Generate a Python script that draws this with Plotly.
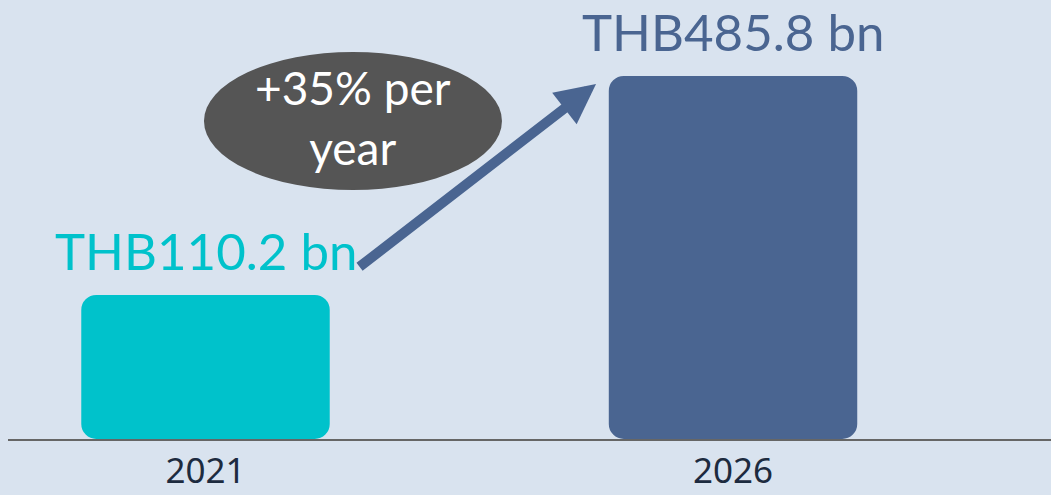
import plotly.graph_objects as go

# Data
years = ["2021", "2026"]
values = [110.2, 485.8]
value_labels = ["THB110.2 bn", "THB485.8 bn"]
growth_label = "+35% per<br>year"

# Styling constants
BASE = -136.8
TOP = 616.1
bar_colors = ["#00c2cb", "#4a6591"]
bg = "#d9e3ef"

fig = go.Figure()
fig.add_trace(go.Bar(
    x=years,
    y=[v - BASE for v in values],
    base=BASE,
    width=0.471,
    marker=dict(color=bar_colors, line=dict(width=0)),
    hoverinfo="skip",
))

for i, (v, lab, col) in enumerate(zip(values, value_labels, bar_colors)):
    fig.add_annotation(
        x=i, y=v, xref="x", yref="y", text=lab, showarrow=False,
        xanchor="center", yanchor="bottom", yshift=12,
        font=dict(family="Lato", size=51, color=col),
    )

# ellipse
fig.add_shape(type="circle", xref="paper", yref="paper",
              x0=0.1879, x1=0.4736, y0=0.567, y1=0.8815,
              fillcolor="#555555", line=dict(width=0), layer="above")
fig.add_annotation(xref="paper", yref="paper", x=0.3303, y=0.7328,
                   xanchor="center", yanchor="middle",
                   text=growth_label, showarrow=False,
                   font=dict(family="Lato", size=46, color="white"))

# arrow
fig.add_annotation(xref="paper", yref="paper", x=0.5638, y=0.8087,
                   ax=-238, ay=184, axref="pixel", ayref="pixel",
                   text="", showarrow=True, arrowhead=2, arrowsize=0.8,
                   arrowwidth=10, arrowcolor="#4a6591", standoff=0)

fig.update_layout(
    width=1051, height=495,
    margin=dict(l=8, r=0, t=0, b=56),
    paper_bgcolor=bg, plot_bgcolor=bg,
    barcornerradius=15,
    showlegend=False,
    xaxis=dict(type="category", range=[-0.3744, 1.6028], showline=True,
               linecolor="#666666", linewidth=2, showgrid=False, ticks="",
               zeroline=False,
               tickfont=dict(family="Noto Sans", size=35, color="#1d2b3f")),
    yaxis=dict(range=[BASE, TOP], visible=False, showgrid=False),
)

fig.write_html("out.html")
